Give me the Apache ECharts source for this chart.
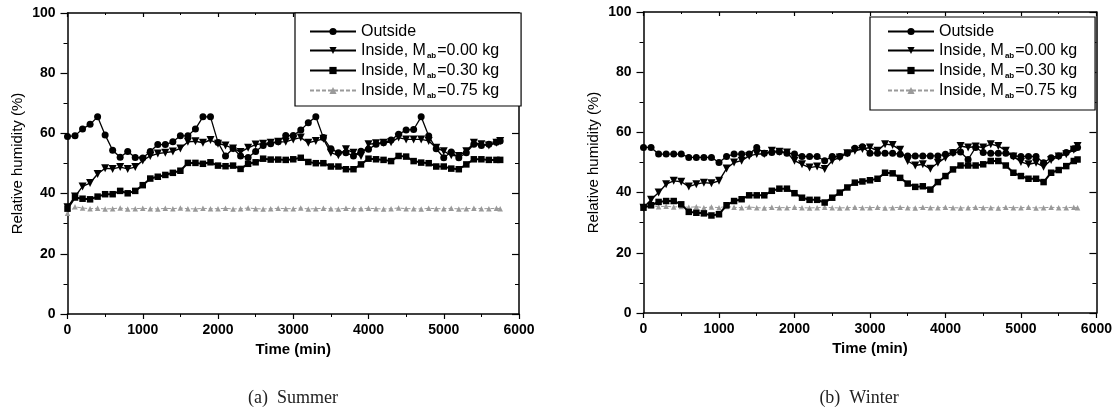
<!DOCTYPE html>
<html>
<head>
<meta charset="utf-8"/>
<script src="https://cdn.jsdelivr.net/npm/echarts@6/dist/echarts.min.js"></script>
<style>
  html, body { margin: 0; padding: 0; background: #fff; }
  #container { width: 1115px; height: 410px; }
</style>
</head>
<body>
<div id="container"></div>
<script type="text/javascript">
    // time axis (min) shared by every curve
    var times = [0, 100, 200, 300, 400, 500, 600, 700, 800, 900,
        1000, 1100, 1200, 1300, 1400, 1500, 1600, 1700, 1800, 1900,
        2000, 2100, 2200, 2300, 2400, 2500, 2600, 2700, 2800, 2900,
        3000, 3100, 3200, 3300, 3400, 3500, 3600, 3700, 3800, 3900,
        4000, 4100, 4200, 4300, 4400, 4500, 4600, 4700, 4800, 4900,
        5000, 5100, 5200, 5300, 5400, 5500, 5600, 5700, 5750];

    var seriesNames = ['Outside', 'Inside, Mab=0.00 kg', 'Inside, Mab=0.30 kg', 'Inside, Mab=0.75 kg'];
    var xTicks = [0, 1000, 2000, 3000, 4000, 5000, 6000];
    var yTicks = [0, 20, 40, 60, 80, 100];
    var captions = ['(a)  Summer', '(b)  Winter'];

    // (a) Summer
    var summerOutside = [59.0, 59.2, 61.5, 63.0, 65.5, 59.5, 54.4, 52.1, 54.0, 52.0,
        51.8, 54.0, 56.3, 56.3, 57.2, 59.2, 59.2, 61.5, 65.5, 65.5,
        57.0, 52.5, 55.0, 52.5, 52.0, 54.0, 56.0, 56.6, 57.2, 59.3,
        59.3, 61.1, 63.5, 65.5, 58.6, 54.9, 53.6, 53.6, 52.5, 54.1,
        54.7, 56.4, 56.9, 57.8, 59.7, 61.1, 61.3, 65.5, 59.1, 54.9,
        51.9, 53.8, 51.9, 53.6, 56.4, 56.0, 56.4, 57.1, 57.5];
    var summerM000 = [35.5, 39.0, 42.4, 43.5, 46.5, 48.4, 48.2, 48.8, 48.2, 48.8,
        51.0, 52.5, 53.3, 53.6, 54.0, 55.0, 57.2, 57.4, 56.9, 57.8,
        56.6, 56.0, 55.0, 53.8, 55.2, 56.3, 56.6, 56.9, 57.2, 57.2,
        58.0, 58.6, 56.9, 57.5, 58.2, 53.6, 52.7, 54.7, 53.6, 52.5,
        56.4, 56.7, 56.9, 57.1, 58.6, 58.0, 58.0, 58.0, 57.5, 55.2,
        54.1, 52.7, 52.5, 54.1, 56.9, 56.4, 56.0, 56.9, 57.5];
    var summerM030 = [35.0, 38.7, 38.3, 38.1, 39.0, 39.8, 39.8, 40.9, 40.1, 40.9,
        42.8, 45.0, 45.6, 46.2, 46.9, 47.6, 50.2, 50.2, 49.9, 50.4,
        49.3, 49.1, 49.3, 48.2, 49.9, 50.4, 51.6, 51.3, 51.3, 51.2,
        51.4, 51.9, 50.5, 50.1, 50.1, 49.0, 49.0, 48.1, 48.1, 49.7,
        51.6, 51.4, 51.2, 50.8, 52.5, 52.3, 50.8, 50.3, 50.1, 49.0,
        49.0, 48.3, 48.1, 49.7, 51.4, 51.4, 51.2, 51.2, 51.2];
    var summerM075 = [33.5, 35.6, 35.2, 35.0, 35.1, 34.9, 35.0, 35.2, 34.9, 35.0,
        35.1, 35.0, 34.9, 35.1, 35.0, 35.2, 35.0, 34.9, 35.1, 35.0,
        35.0, 35.1, 34.9, 35.0, 35.2, 35.0, 34.9, 35.0, 35.1, 35.0,
        35.0, 35.2, 34.9, 35.0, 35.1, 35.0, 34.9, 35.1, 35.0, 35.0,
        35.1, 35.0, 34.9, 35.0, 35.2, 35.0, 35.0, 34.9, 35.1, 35.0,
        35.0, 35.1, 34.9, 35.0, 35.1, 35.0, 35.0, 35.1, 35.0];

    // (b) Winter
    var winterOutside = [55.0, 55.0, 52.8, 52.8, 52.8, 52.8, 51.7, 51.7, 51.7, 51.7,
        50.0, 52.0, 52.8, 52.8, 52.8, 55.0, 53.1, 53.3, 53.6, 53.1,
        52.8, 52.0, 52.0, 52.0, 50.6, 52.0, 52.0, 53.1, 54.7, 55.2,
        53.1, 53.1, 53.1, 53.1, 52.7, 52.2, 52.2, 52.2, 52.2, 52.2,
        52.7, 53.3, 53.5, 51.0, 55.0, 53.3, 53.1, 53.1, 53.1, 52.2,
        52.0, 52.0, 52.0, 49.9, 51.6, 52.2, 53.3, 54.6, 55.0];
    var winterM000 = [35.0, 37.6, 40.0, 42.8, 43.9, 43.6, 42.0, 42.8, 43.3, 43.1,
        43.9, 48.0, 50.0, 50.6, 52.2, 52.8, 52.8, 53.9, 53.6, 53.3,
        50.6, 49.4, 48.3, 48.7, 47.8, 50.6, 51.7, 53.1, 53.9, 54.5,
        55.0, 53.9, 56.1, 55.8, 54.2, 50.5, 49.0, 49.4, 47.9, 49.9,
        51.6, 53.1, 55.5, 55.0, 55.3, 55.0, 56.1, 55.5, 53.9, 52.0,
        50.2, 49.4, 49.9, 48.6, 50.8, 52.0, 52.7, 54.2, 55.5];
    var winterM030 = [35.0, 35.8, 36.9, 37.2, 37.2, 36.1, 33.6, 33.3, 33.1, 32.4,
        32.8, 35.8, 37.2, 37.8, 39.1, 39.1, 39.1, 40.6, 41.3, 41.3,
        39.8, 38.3, 37.6, 37.6, 36.7, 38.3, 40.0, 41.7, 43.3, 43.7,
        44.1, 44.6, 46.6, 46.4, 44.9, 43.0, 41.9, 42.1, 41.0, 43.5,
        45.5, 47.7, 49.0, 49.0, 49.0, 49.4, 50.5, 50.5, 49.0, 46.6,
        45.5, 44.6, 44.6, 43.5, 46.6, 47.5, 48.8, 50.5, 51.0];
    var winterM075 = [35.0, 35.6, 35.3, 35.5, 35.2, 35.4, 35.1, 35.3, 35.0, 35.2,
        35.0, 35.4, 35.1, 35.0, 35.2, 35.0, 34.9, 35.1, 35.0, 35.0,
        35.1, 35.0, 34.9, 35.0, 35.1, 35.0, 34.9, 35.0, 35.1, 35.0,
        35.0, 35.1, 34.9, 35.0, 35.1, 35.0, 34.9, 35.1, 35.0, 35.0,
        35.1, 35.0, 34.9, 35.0, 35.1, 35.0, 35.0, 34.9, 35.1, 35.0,
        35.0, 35.1, 34.9, 35.0, 35.1, 35.0, 35.0, 35.1, 35.0];

    var FONT = '"Liberation Sans", Arial, sans-serif';

    function pairs(values) {
        var out = [];
        for (var i = 0; i < values.length; i++) {
            out.push([times[i], values[i]]);
        }
        return out;
    }

    function plain(v) {
        return String(v);
    }

    function styleOf(k) {
        if (k == 0) return {symbol: 'circle', symbolSize: 7, symbolRotate: 0, color: '#000', width: 1.3, type: 'solid'};
        if (k == 1) return {symbol: 'triangle', symbolSize: 8, symbolRotate: 180, color: '#000', width: 1.4, type: 'solid'};
        if (k == 2) return {symbol: 'rect', symbolSize: 6.5, symbolRotate: 0, color: '#000', width: 2, type: 'solid'};
        return {symbol: 'triangle', symbolSize: 5.5, symbolRotate: 0, color: '#9a9a9a', width: 1, type: [4, 2]};
    }

    function makeSeries(gridIdx, lists) {
        var out = [];
        for (var k = lists.length - 1; k >= 0; k--) {
            var s = styleOf(k);
            out.push({
                name: seriesNames[k],
                type: 'line',
                xAxisIndex: gridIdx * 2,
                yAxisIndex: gridIdx * 2,
                data: pairs(lists[k]),
                symbol: s.symbol,
                symbolSize: s.symbolSize,
                symbolRotate: s.symbolRotate,
                showAllSymbol: true,
                animation: false,
                lineStyle: {color: s.color, width: s.width, type: s.type},
                itemStyle: {color: s.color, borderWidth: 0},
                z: 10 - k
            });
        }
        return out;
    }

    function xAxes(gridIdx) {
        var base = {
            gridIndex: gridIdx, type: 'value', min: xTicks[0], max: xTicks[xTicks.length - 1],
            interval: xTicks[1] - xTicks[0], splitLine: {show: false},
            axisLine: {onZero: false, lineStyle: {color: '#000', width: 1.5}}
        };
        var bottom = Object.assign({}, base, {
            position: 'bottom',
            name: 'Time (min)', nameLocation: 'middle', nameGap: 27,
            nameTextStyle: {fontFamily: FONT, fontSize: 15, fontWeight: 'bold', color: '#000'},
            axisTick: {inside: false, length: 5, lineStyle: {width: 1.2}},
            minorTick: {show: true, splitNumber: 2, length: 3, lineStyle: {color: '#000', width: 1}},
            axisLabel: {margin: 9, fontFamily: FONT, fontSize: 14, fontWeight: 'bold', color: '#000', formatter: plain}
        });
        var top = Object.assign({}, base, {
            position: 'top',
            axisTick: {inside: true, length: 4, lineStyle: {width: 1.2}},
            minorTick: {show: true, splitNumber: 2, length: 2, lineStyle: {color: '#000', width: 1}},
            axisLabel: {show: false}
        });
        return [bottom, top];
    }

    function yAxes(gridIdx) {
        var base = {
            gridIndex: gridIdx, type: 'value', min: yTicks[0], max: yTicks[yTicks.length - 1],
            interval: yTicks[1] - yTicks[0], splitLine: {show: false},
            axisLine: {onZero: false, lineStyle: {color: '#000', width: 1.5}}
        };
        var left = Object.assign({}, base, {
            position: 'left',
            name: 'Relative humidity (%)', nameLocation: 'middle', nameGap: 42, nameRotate: 90,
            nameTextStyle: {fontFamily: FONT, fontSize: 15, color: '#000'},
            axisTick: {inside: false, length: 7, lineStyle: {width: 1.2}},
            minorTick: {show: true, splitNumber: 2, length: 4, lineStyle: {color: '#000', width: 1}},
            axisLabel: {margin: 12, fontFamily: FONT, fontSize: 14, fontWeight: 'bold', color: '#000', formatter: plain}
        });
        var right = Object.assign({}, base, {
            position: 'right',
            axisTick: {inside: true, length: 7, lineStyle: {width: 1.2}},
            minorTick: {show: true, splitNumber: 2, length: 4, lineStyle: {color: '#000', width: 1}},
            axisLabel: {show: false}
        });
        return [left, right];
    }

    function legendFor(pos, pad) {
        return Object.assign({
            orient: 'vertical',
            data: seriesNames,
            backgroundColor: '#fff',
            borderColor: '#000',
            borderWidth: 1.2,
            padding: pad,
            itemGap: 2,
            itemWidth: 46,
            itemHeight: 9,
            selectedMode: false,
            formatter: function (name) {
                return name.replace('Mab', 'M{sub|ab}');
            },
            textStyle: {
                fontFamily: FONT, fontSize: 16, color: '#000', lineHeight: 17,
                rich: {sub: {fontFamily: FONT, fontSize: 8, fontWeight: 'bold', padding: [11, 1, 0, 1], color: '#000'}}
            }
        }, pos);
    }

    var dom = document.getElementById('container');
    var myChart = echarts.init(dom, null, {renderer: 'canvas'});

    var option = {
        animation: false,
        textStyle: {fontFamily: FONT},
        title: [
            {text: captions[0], left: 288, top: 384, textAlign: 'center',
                textStyle: {fontFamily: '"Liberation Serif", "DejaVu Serif", serif', fontSize: 18, fontWeight: 'normal', color: '#222'}},
            {text: captions[1], left: 854, top: 384, textAlign: 'center',
                textStyle: {fontFamily: '"Liberation Serif", "DejaVu Serif", serif', fontSize: 18, fontWeight: 'normal', color: '#222'}}
        ],
        grid: [
            {left: 67.5, right: 596, top: 13, bottom: 96},
            {left: 643.5, right: 16, top: 12, bottom: 97}
        ],
        legend: [
            legendFor({left: 295, top: 13}, [10, 22, 6, 14]),
            legendFor({left: 870, top: 17}, [6, 18, 10, 17])
        ],
        xAxis: xAxes(0).concat(xAxes(1)),
        yAxis: yAxes(0).concat(yAxes(1)),
        series: makeSeries(0, [summerOutside, summerM000, summerM030, summerM075])
            .concat(makeSeries(1, [winterOutside, winterM000, winterM030, winterM075]))
    };

    if (option && typeof option === "object") {
        myChart.setOption(option, true);
    }
</script>
</body>
</html>
